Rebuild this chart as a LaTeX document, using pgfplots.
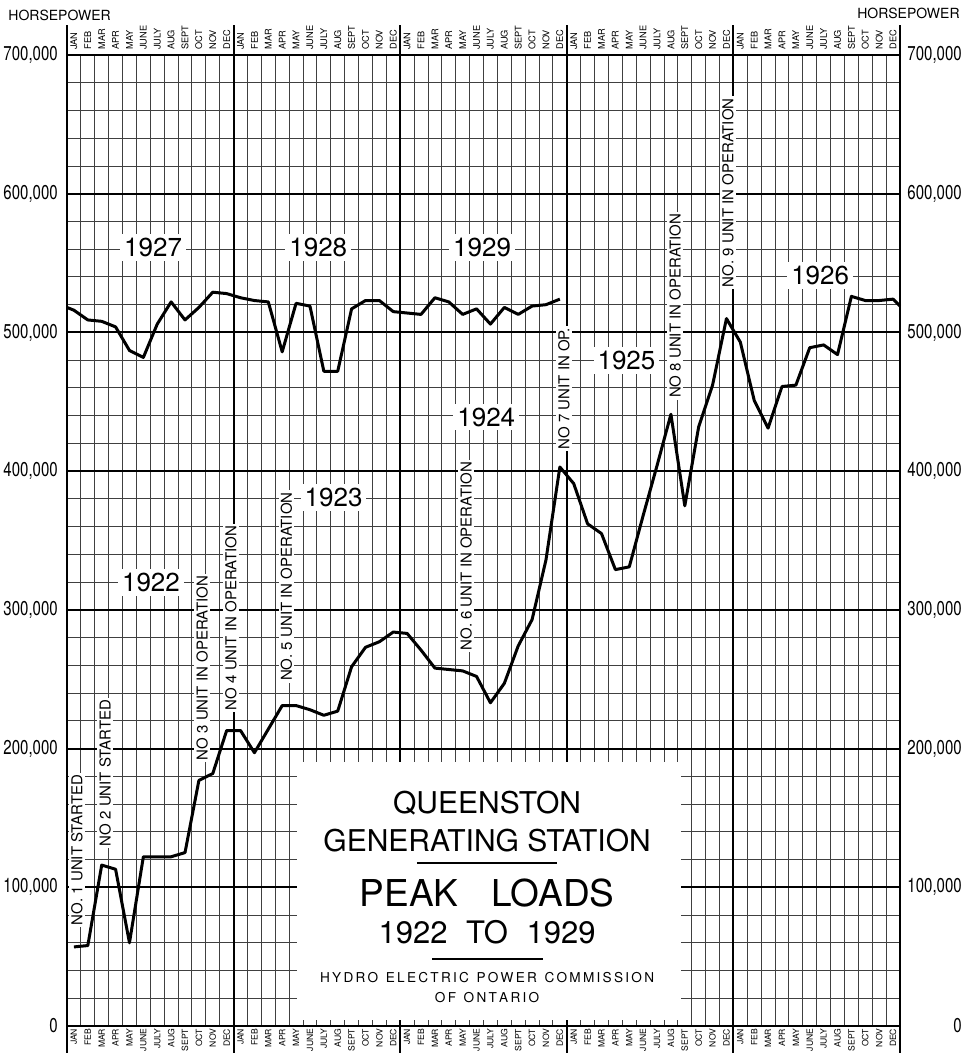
\documentclass[border=0pt]{standalone}
\usepackage{pgfplots}
\usepackage{pgfplotstable}
\pgfplotsset{compat=1.18}
\usepackage{fontspec}
\setmainfont{TeX Gyre Heros}

\pgfplotstableread{
m v
0.5 57000
1.5 58000
2.5 116000
3.5 113000
4.5 60000
5.5 122000
6.5 122000
7.5 122000
8.5 125000
9.5 177000
10.5 182000
11.5 213000
12.5 213000
13.5 197000
14.5 214000
15.5 231000
16.5 231000
17.5 228000
18.5 224000
19.5 227000
20.5 259000
21.5 273000
22.5 277000
23.5 284000
24.5 283000
25.5 271000
26.5 258000
27.5 257000
28.5 256000
29.5 252000
30.5 233000
31.5 247000
32.5 274000
33.5 293000
34.5 336000
35.5 403000
36.5 391000
37.5 362000
38.5 355000
39.5 329000
40.5 331000
41.5 368000
42.5 404000
43.5 441000
44.5 375000
45.5 432000
46.5 462000
47.5 510000
48.5 493000
49.5 451000
50.5 431000
51.5 461000
52.5 462000
53.5 489000
54.5 491000
55.5 484000
56.5 526000
57.5 523000
58.5 523000
59.5 524000
60 519000
}\lowtrace

\pgfplotstableread{
m v
0 518000
0.5 516000
1.5 509000
2.5 508000
3.5 504000
4.5 487000
5.5 482000
6.5 506000
7.5 522000
8.5 509000
9.5 518000
10.5 529000
11.5 528000
12.5 525000
13.5 523000
14.5 522000
15.5 486000
16.5 521000
17.5 519000
18.5 472000
19.5 472000
20.5 517000
21.5 523000
22.5 523000
23.5 515000
24.5 514000
25.5 513000
26.5 525000
27.5 522000
28.5 513000
29.5 517000
30.5 506000
31.5 518000
32.5 513000
33.5 519000
34.5 520000
35.5 524000
}\uptrace

\def\monthlist{JAN,FEB,MAR,APR,MAY,JUNE,JULY,AUG,SEPT,OCT,NOV,DEC}

\begin{document}
\begin{tikzpicture}
\useasboundingbox (-33.5pt,-13.5pt) rectangle (456pt,513pt);
\pgfplotsset{
  base/.style={
    scale only axis, width=416.5pt, height=485.5pt,
    at={(0,0)}, anchor=south west,
    xmin=0, xmax=60, ymin=0, ymax=700000,
    xtick={0.5,1.5,...,59.5},
    xticklabels/.expanded={\monthlist,\monthlist,\monthlist,\monthlist,\monthlist},
    ytick={0,100000,...,700000},
    major tick length=0pt, minor tick length=0pt,
    scaled y ticks=false,
    yticklabel={\pgfmathprintnumber[fixed,precision=0,1000 sep={,},assume math mode=true]{\tick}},
    clip=false,
  }
}
\begin{axis}[base,
  minor xtick={0,1,...,60},
  minor ytick={0,20000,...,700000},
  xmajorgrids=false, xminorgrids=true, ymajorgrids=true, yminorgrids=true,
  major grid style={black, line width=1pt},
  minor grid style={black!75, line width=0.45pt},
  axis line style={line width=1pt},
  extra x ticks={0,12,...,60},
  extra x tick labels={},
  extra x tick style={grid=major, major grid style={black, line width=1pt}},
  xticklabel style={font=\fontsize{4.3}{4.3}\selectfont, rotate=90, anchor=east, inner sep=1.2pt},
  yticklabel style={font=\fontsize{10}{10}\selectfont, anchor=east, inner sep=0pt, xshift=-4.5pt, xscale=0.75},
]
\pgfplotsinvokeforeach{0,12,24,36,48,60}{
  \draw[line width=1pt] (axis cs:#1,700000) -- ++(0,15pt);
  \draw[line width=1pt] (axis cs:#1,0) -- ++(0,-13.5pt);
}
\fill[white] (axis cs:16.6,4300) rectangle (axis cs:44.2,190000);

\addplot[black, line width=1.5pt, line join=round] table[x=m,y=v] {\lowtrace};
\addplot[black, line width=1.5pt, line join=round] table[x=m,y=v] {\uptrace};

\tikzset{yearlab/.style={fill=white, inner sep=2pt, font=\fontsize{13}{13}\selectfont},
         unitlab/.style={fill=white, inner sep=1pt, rotate=90, anchor=west, font=\fontsize{7.5}{8}\selectfont}}
\node[yearlab] at (axis cs:6.2,561000) {1927};
\node[yearlab] at (axis cs:18.1,561000) {1928};
\node[yearlab] at (axis cs:29.9,561000) {1929};
\node[yearlab] at (axis cs:54.25,541000) {1926};
\node[yearlab] at (axis cs:40.3,480000) {1925};
\node[yearlab] at (axis cs:30.2,439000) {1924};
\node[yearlab] at (axis cs:19.2,381000) {1923};
\node[yearlab] at (axis cs:6.05,320000) {1922};

\node[unitlab] at (axis cs:0.72,71000) {NO. 1 UNIT STARTED};
\node[unitlab] at (axis cs:2.74,128000) {NO 2 UNIT STARTED};
\node[unitlab] at (axis cs:9.73,190000) {NO 3 UNIT IN OPERATION};
\node[unitlab] at (axis cs:11.8,226000) {NO 4 UNIT IN OPERATION};
\node[unitlab] at (axis cs:15.8,247000) {NO. 5 UNIT IN OPERATION};
\node[unitlab] at (axis cs:28.75,269000) {NO. 6 UNIT IN OPERATION};
\node[unitlab] at (axis cs:35.8,414000) {NO 7 UNIT IN OP.};
\node[unitlab] at (axis cs:43.8,451000) {NO 8 UNIT IN OPERATION};
\node[unitlab] at (axis cs:47.6,531000) {NO. 9 UNIT IN OPERATION};

\node[font=\fontsize{15}{15}\selectfont, inner sep=0pt] at (axis cs:30.26,160800) {QUEENSTON};
\node[font=\fontsize{15}{15}\selectfont, inner sep=0pt] at (axis cs:30.26,134000) {GENERATING STATION};
\draw[line width=0.6pt] (axis cs:25.2,117500) -- (axis cs:35.3,117500);
\node[font=\fontsize{18.5}{18.5}\selectfont, inner sep=0pt] at (axis cs:30.26,95900) {PEAK\hspace{0.9em}LOADS};
\node[font=\fontsize{15.5}{15.5}\selectfont, inner sep=0pt] at (axis cs:30.26,67800) {1922\hspace{0.6em}TO\hspace{0.6em}1929};
\draw[line width=0.6pt] (axis cs:26.3,48300) -- (axis cs:34.3,48300);
\node[font=\fontsize{6.8}{7}\selectfont, inner sep=0pt] at (axis cs:30.26,34600) {H\,Y\,D\,R\,O\ \ E\,L\,E\,C\,T\,R\,I\,C\ \ P\,O\,W\,E\,R\ \ C\,O\,M\,M\,I\,S\,S\,I\,O\,N};
\node[font=\fontsize{6.8}{7}\selectfont, inner sep=0pt] at (axis cs:30.26,20200) {O\,F\ \ O\,N\,T\,A\,R\,I\,O};
\end{axis}

\begin{axis}[base,
  axis line style={draw=none},
  xticklabel pos=right, yticklabel pos=right,
  xticklabel style={font=\fontsize{4.6}{4.6}\selectfont, rotate=90, anchor=west, inner sep=2.5pt},
  yticklabel style={font=\fontsize{10}{10}\selectfont, anchor=east, inner sep=0pt, xshift=31pt, xscale=0.75},
]
\end{axis}

\node[anchor=west, inner sep=0pt, font=\fontsize{7}{7}\selectfont] at (-29.5pt,505.5pt) {HORSEPOWER};
\node[anchor=east, inner sep=0pt, font=\fontsize{7}{7}\selectfont] at (446.5pt,506.5pt) {HORSEPOWER};
\end{tikzpicture}
\end{document}
